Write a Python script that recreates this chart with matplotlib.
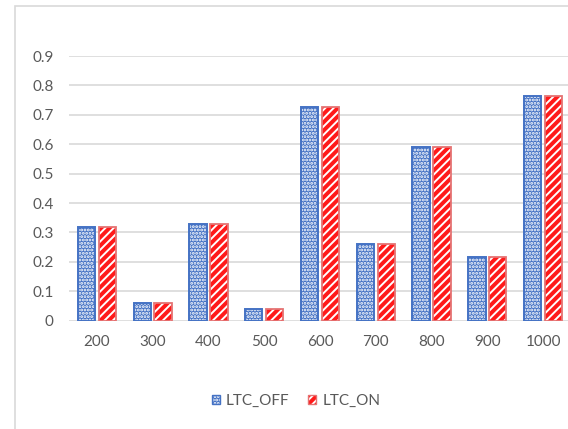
import matplotlib.pyplot as plt
import numpy as np
from matplotlib.patches import Rectangle, Patch
from matplotlib.legend_handler import HandlerTuple

plt.rcParams['font.family'] = ['Lato', 'DejaVu Sans']
plt.rcParams['hatch.linewidth'] = 1.4

categories = ["200", "300", "400", "500", "600", "700", "800", "900", "1000"]
ltc_off = [0.32, 0.06, 0.33, 0.04, 0.725, 0.26, 0.59, 0.215, 0.765]
ltc_on = [0.32, 0.06, 0.33, 0.04, 0.725, 0.26, 0.59, 0.215, 0.765]

blue = "#4472C4"
red = "#FF1A1A"
red_edge = "#E57373"
text_gray = "#595959"
dots = "....."
stripes = "////"

fig = plt.figure(figsize=(5.68, 4.29), dpi=100)
ax = fig.add_axes([69 / 568, 1 - 320.7 / 429, 502 / 568, (320.7 - 56) / 429])

# chart area border, runs off the right and bottom edges
fig.patches.append(Rectangle((14.5 / 568, -0.1), 1.2, 1 - 6.5 / 429 + 0.1,
                             transform=fig.transFigure, fill=False,
                             edgecolor="#D9D9D9", linewidth=1.2))

x = np.arange(len(categories))
w = 0.31
off = 0.187

ax.bar(x - off, ltc_off, w, facecolor=blue, edgecolor="white", hatch=dots,
       linewidth=0, zorder=3)
ax.bar(x - off, ltc_off, w, fill=False, edgecolor=blue, linewidth=1.4, zorder=4)
ax.bar(x + off, ltc_on, w, facecolor=red, edgecolor="white", hatch=stripes,
       linewidth=0, zorder=3)
ax.bar(x + off, ltc_on, w, fill=False, edgecolor=red_edge, linewidth=1.3, zorder=4)

ax.set_xlim(-0.5, 8.5)
ax.set_ylim(0, 0.9)
ax.set_yticks(np.arange(0, 0.91, 0.1))
ax.set_yticklabels(["0"] + [f"{v:.1f}" for v in np.arange(0.1, 0.91, 0.1)])
ax.set_xticks(x)
ax.set_xticklabels(categories)
ax.tick_params(axis="both", length=0, labelsize=11, colors=text_gray)
ax.tick_params(axis="y", pad=11)
ax.tick_params(axis="x", pad=10)
ax.grid(axis="y", color="#D9D9D9", linewidth=1.2, zorder=0)
for s in ax.spines.values():
    s.set_visible(False)

h_off = (Patch(facecolor=blue, edgecolor="white", hatch=dots, linewidth=0),
         Patch(fill=False, edgecolor=blue, linewidth=1))
h_on = (Patch(facecolor=red, edgecolor="white", hatch=stripes, linewidth=0),
        Patch(fill=False, edgecolor=red_edge, linewidth=1))
fig.legend([h_off, h_on], ["LTC_OFF", "LTC_ON"],
           handler_map={tuple: HandlerTuple(ndivide=1)},
           loc="center", bbox_to_anchor=(296 / 568, 1 - 401 / 429),
           ncol=2, frameon=False, fontsize=11, labelcolor=text_gray,
           handlelength=0.55, handleheight=0.55, handletextpad=0.4,
           columnspacing=1.2)

fig.savefig("out.png", dpi=100)
